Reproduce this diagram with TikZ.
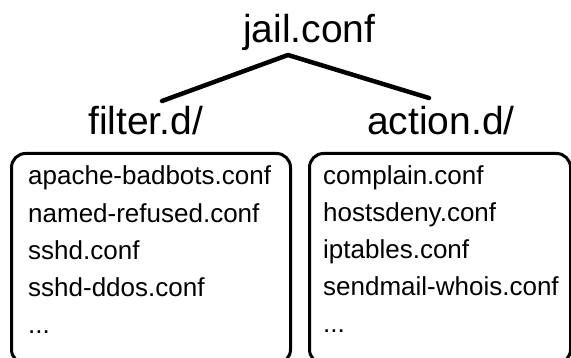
\documentclass[tikz,border=0pt]{standalone}
\usepackage{fontspec}
\setmainfont{Liberation Sans}
\begin{document}
\begin{tikzpicture}[x=1pt, y=-1pt,
  title/.style={font=\fontsize{39}{39}\selectfont, inner sep=0pt, anchor=base west},
  entry/.style={font=\fontsize{26}{26}\selectfont, inner sep=0pt, anchor=base west},
  link/.style={line width=4.5pt, line cap=round, line join=round},
  folder/.style={draw, line width=3pt, rounded corners=14pt, inner sep=0pt, anchor=north west}]
\useasboundingbox (0,0) rectangle (571,358);
\clip (0,0) rectangle (571,358);

% headings
\node[title] (jail)   at (243,43)  {jail.conf};
\node[title] (filter) at (88,135)  {filter.d/};
\node[title] (action) at (367,135) {action.d/};

% branches from jail.conf to the two directories
\coordinate (fork) at (288,55);
\coordinate (ftip) at (162,101);
\coordinate (atip) at (429,98);
\draw[link] (ftip) -- (fork) -- (atip);

% directory boxes
\node[folder, minimum width=279pt, minimum height=210pt] (fbox) at (10,152) {};
\node[folder, minimum width=261pt, minimum height=210pt] (abox) at (308,152) {};

% directory contents
\foreach \t [count=\i from 0] in {apache-badbots.conf, named-refused.conf, sshd.conf, sshd-ddos.conf}
  \node[entry] (f\i) at (28,185+37.3*\i) {\t};
\node[entry] (fmore) at (28,334) {...};
\foreach \t [count=\i from 0] in {complain.conf, hostsdeny.conf, iptables.conf, sendmail-whois.conf}
  \node[entry] (a\i) at (323,185+37*\i) {\t};
\node[entry] (amore) at (323,333) {...};
\end{tikzpicture}
\end{document}
